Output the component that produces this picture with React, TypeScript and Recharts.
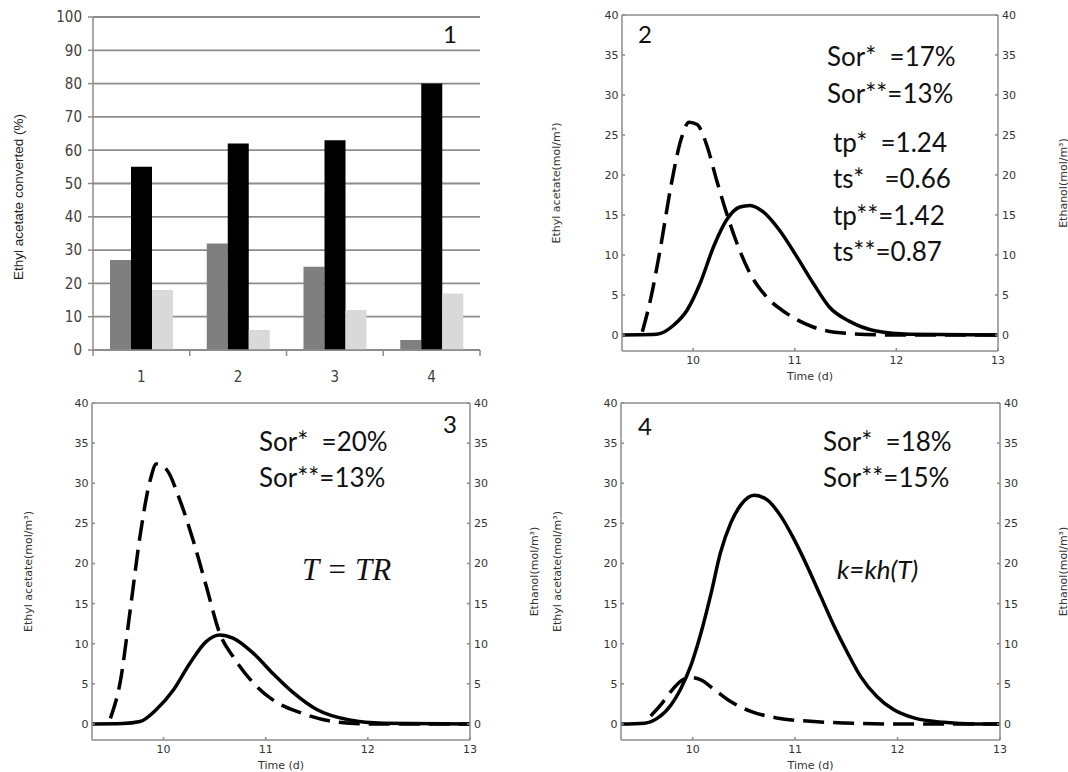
import { Bar, BarChart, CartesianGrid, Line, LineChart, XAxis, YAxis } from "recharts";

// panel 1 – conversion bars
const barCategories = ["1", "2", "3", "4"];
const grayBarValues = [27, 32, 25, 3];
const blackBarValues = [55, 62, 63, 80];
const lightBarValues = [18, 6, 12, 17];
const percentTicks = [0, 10, 20, 30, 40, 50, 60, 70, 80, 90, 100];

// panels 2-4 – concentration curves
const timeTicks = [10, 11, 12, 13];
const concTicks = [0, 5, 10, 15, 20, 25, 30, 35, 40];

const p2DashedTime = [9.5, 9.58, 9.68, 9.78, 9.88, 9.96, 10.04, 10.14, 10.23, 10.33, 10.43, 10.56, 10.72, 10.92, 11.18, 11.51, 11.96, 13];
const p2DashedConc = [0.4, 4.4, 11, 18.5, 24.4, 26.6, 26.3, 23.5, 19.4, 15.2, 11.5, 7.7, 4.8, 2.7, 1, 0.2, 0, 0];
const p2SolidTime = [9.3, 9.6, 9.68, 9.81, 9.94, 10.07, 10.2, 10.33, 10.46, 10.56, 10.69, 10.85, 11.02, 11.18, 11.34, 11.54, 11.8, 12.13, 13];
const p2SolidConc = [0, 0.05, 0.2, 1.25, 3.1, 6.5, 11, 14.4, 16, 16.2, 15.4, 13.1, 9.8, 6.5, 3.5, 1.7, 0.5, 0.1, 0];

const p3DashedTime = [9.48, 9.58, 9.67, 9.77, 9.87, 9.93, 10.03, 10.16, 10.29, 10.42, 10.55, 10.68, 10.88, 11.07, 11.34, 11.66, 11.99, 13];
const p3DashedConc = [0.7, 5.5, 13.8, 23.4, 30.4, 32.4, 31.7, 27.9, 22.9, 17.1, 11.3, 8.4, 5.1, 3, 1.4, 0.3, 0, 0];
const p3SolidTime = [9.3, 9.6, 9.77, 9.93, 10.1, 10.26, 10.42, 10.55, 10.68, 10.88, 11.07, 11.27, 11.5, 11.82, 12.15, 13];
const p3SolidConc = [0, 0.05, 0.3, 1.8, 4.3, 7.6, 10.3, 11.1, 10.7, 8.8, 6.3, 3.9, 1.8, 0.5, 0.1, 0];

const p4DashedTime = [9.59, 9.69, 9.79, 9.88, 9.98, 10.08, 10.21, 10.37, 10.56, 10.82, 11.15, 11.47, 11.96, 13];
const p4DashedConc = [1, 2.4, 4.1, 5.3, 5.8, 5.5, 4.3, 2.8, 1.6, 0.75, 0.33, 0.12, 0, 0];
const p4SolidTime = [9.3, 9.53, 9.66, 9.79, 9.88, 9.98, 10.08, 10.18, 10.27, 10.37, 10.47, 10.6, 10.73, 10.86, 10.99, 11.12, 11.25, 11.38, 11.51, 11.64, 11.8, 11.96, 12.16, 12.45, 12.77, 13];
const p4SolidConc = [0, 0.1, 0.75, 2.4, 4.3, 7.2, 11.3, 16.3, 21.3, 25, 27.3, 28.5, 27.9, 25.9, 23, 19.6, 15.9, 12.2, 8.9, 5.9, 3.4, 1.8, 0.75, 0.2, 0, 0];

const barRows = barCategories.map((name, i) => ({
  name,
  gray: grayBarValues[i],
  black: blackBarValues[i],
  light: lightBarValues[i],
}));

const toPoints = (times: number[], conc: number[]) => times.map((t, i) => ({ t, c: conc[i] }));

const AXIS_GRAY = "#8c8c8c";
const TICK_FONT = "'DejaVu Sans', sans-serif";
const NOTE_FONT = "Lato, 'Open Sans', sans-serif";
const NARROW_FONT = "'Liberation Sans Narrow', 'DejaVu Sans Condensed', 'Liberation Sans', sans-serif";

// bar panel geometry (chart sits at the page origin)
const BAR_LEFT = 93;
const BAR_RIGHT = 480;
const BAR_BOTTOM = 350;
const halfBand = (BAR_RIGHT - BAR_LEFT) / barCategories.length / 2;

function BarCategoryTick(props: any) {
  const { x, y, payload, index } = props;
  return (
    <g>
      <line x1={x - halfBand} x2={x - halfBand} y1={BAR_BOTTOM} y2={BAR_BOTTOM + 6} stroke={AXIS_GRAY} strokeWidth={1.5} />
      {index === barCategories.length - 1 && (
        <line x1={x + halfBand} x2={x + halfBand} y1={BAR_BOTTOM} y2={BAR_BOTTOM + 6} stroke={AXIS_GRAY} strokeWidth={1.5} />
      )}
      <text x={x} y={y} dy="0.71em" textAnchor="middle" fontSize={15} fill="#404040" fontFamily={NARROW_FONT}>
        {payload.value}
      </text>
    </g>
  );
}

function verticalTitle(text: string, x: number, cy: number) {
  return () => (
    <text
      x={x}
      y={cy}
      transform={`rotate(-90 ${x} ${cy})`}
      textAnchor="middle"
      dominantBaseline="central"
      fontSize={11}
      fill="#333"
      fontFamily={TICK_FONT}
    >
      {text}
    </text>
  );
}

type PanelLayout = {
  left: number;
  top: number;
  width: number;
  height: number;
  marginTop: number;
  leftAxisWidth: number;
  rightAxisWidth: number;
  xAxisHeight: number;
  leftTitleX: number;
  rightTitleX: number;
};

function CurvePanel({
  layout,
  dashed,
  solid,
}: {
  layout: PanelLayout;
  dashed: { t: number; c: number }[];
  solid: { t: number; c: number }[];
}) {
  const plotTop = layout.marginTop;
  const plotBottom = layout.height - layout.xAxisHeight;
  const plotLeft = layout.leftAxisWidth;
  const plotRight = layout.width - layout.rightAxisWidth;
  const cy = (plotTop + plotBottom) / 2;
  const tickStyle = { fontSize: 11, fill: "#333", fontFamily: TICK_FONT };
  const xDomain: [number, number] = [9.3, 13];
  const yDomain: [number, number] = [-2, 40];

  return (
    <div style={{ position: "absolute", left: layout.left, top: layout.top }}>
      <LineChart
        width={layout.width}
        height={layout.height}
        margin={{ top: layout.marginTop - 1, right: 0, bottom: 0, left: 0 }}
      >
        <XAxis
          dataKey="t"
          type="number"
          domain={xDomain}
          ticks={timeTicks}
          allowDataOverflow
          height={layout.xAxisHeight}
          stroke={AXIS_GRAY}
          strokeWidth={1.5}
          tickSize={-3}
          tickMargin={8}
          tick={tickStyle}
          label={() => (
            <text
              x={(plotLeft + plotRight) / 2}
              y={plotBottom + 29}
              textAnchor="middle"
              fontSize={11}
              fill="#333"
              fontFamily={TICK_FONT}
            >
              Time (d)
            </text>
          )}
        />
        <XAxis
          xAxisId="top"
          orientation="top"
          dataKey="t"
          type="number"
          domain={xDomain}
          ticks={[10, 11, 12]}
          allowDataOverflow
          height={1}
          stroke={AXIS_GRAY}
          strokeWidth={1.5}
          tickSize={-3}
          tick={false}
        />
        <YAxis
          domain={yDomain}
          ticks={concTicks}
          allowDataOverflow
          width={layout.leftAxisWidth}
          stroke={AXIS_GRAY}
          strokeWidth={1.5}
          tickSize={-3}
          tickMargin={6.5}
          tick={tickStyle}
          label={verticalTitle("Ethyl acetate(mol/m³)", layout.leftTitleX, cy)}
        />
        <YAxis
          yAxisId="right"
          orientation="right"
          domain={yDomain}
          ticks={concTicks}
          allowDataOverflow
          width={layout.rightAxisWidth}
          stroke={AXIS_GRAY}
          strokeWidth={1.5}
          tickSize={-3}
          tickMargin={7}
          tick={tickStyle}
          label={verticalTitle("Ethanol(mol/m³)", layout.rightTitleX, cy)}
        />
        <Line
          data={solid}
          dataKey="c"
          type="monotone"
          stroke="#000"
          strokeWidth={3.5}
          dot={false}
          activeDot={false}
          isAnimationActive={false}
        />
        <Line
          data={dashed}
          dataKey="c"
          type="monotone"
          stroke="#000"
          strokeWidth={3.5}
          strokeDasharray="21 9"
          dot={false}
          activeDot={false}
          isAnimationActive={false}
        />
      </LineChart>
    </div>
  );
}

function Note({
  x,
  cy,
  size = 26,
  italic = false,
  serif = false,
  children,
}: {
  x: number;
  cy: number;
  size?: number;
  italic?: boolean;
  serif?: boolean;
  children: string;
}) {
  return (
    <div
      style={{
        position: "absolute",
        left: x,
        top: cy - size * 0.53,
        fontSize: size,
        lineHeight: 1,
        whiteSpace: "pre",
        color: "#111",
        fontStyle: italic ? "italic" : "normal",
        fontFamily: serif ? "'Liberation Serif', 'DejaVu Serif', serif" : NOTE_FONT,
      }}
    >
      {children}
    </div>
  );
}

const panel2Layout: PanelLayout = {
  left: 520, top: 0, width: 548, height: 390, marginTop: 15,
  leftAxisWidth: 102, rightAxisWidth: 70, xAxisHeight: 39, leftTitleX: 36, rightTitleX: 543,
};
const panel3Layout: PanelLayout = {
  left: 0, top: 380, width: 560, height: 392, marginTop: 23,
  leftAxisWidth: 92, rightAxisWidth: 90, xAxisHeight: 32, leftTitleX: 28, rightTitleX: 534,
};
const panel4Layout: PanelLayout = {
  left: 520, top: 380, width: 548, height: 392, marginTop: 23,
  leftAxisWidth: 101, rightAxisWidth: 68, xAxisHeight: 32, leftTitleX: 37, rightTitleX: 543,
};

export default function App() {
  return (
    <div
      style={{
        position: "absolute",
        left: 0,
        top: 0,
        width: 1068,
        height: 772,
        background: "#fff",
        overflow: "hidden",
      }}
    >
      {/* panel 1 */}
      <div style={{ position: "absolute", left: 0, top: 0 }}>
        <BarChart
          width={500}
          height={390}
          data={barRows}
          margin={{ top: 17, right: 20, bottom: 0, left: 0 }}
          barCategoryGap={17}
          barGap={0}
        >
          <CartesianGrid vertical={false} stroke={AXIS_GRAY} strokeWidth={1.8} />
          <XAxis
            dataKey="name"
            height={40}
            stroke={AXIS_GRAY}
            strokeWidth={1.5}
            tickLine={false}
            tickSize={6}
            tickMargin={15}
            tick={<BarCategoryTick />}
          />
          <YAxis
            domain={[0, 100]}
            ticks={percentTicks}
            width={BAR_LEFT}
            stroke={AXIS_GRAY}
            strokeWidth={1.5}
            tickSize={5}
            tickMargin={6}
            tick={{ fontSize: 15, fill: "#404040", fontFamily: NARROW_FONT }}
            label={() => (
              <text
                x={18}
                y={197}
                transform="rotate(-90 18 197)"
                textAnchor="middle"
                dominantBaseline="central"
                fontSize={13.5}
                fill="#222"
                fontFamily="'Liberation Sans', Arial, sans-serif"
              >
                Ethyl acetate converted (%)
              </text>
            )}
          />
          <Bar dataKey="gray" fill="#7f7f7f" isAnimationActive={false} />
          <Bar dataKey="black" fill="#000000" isAnimationActive={false} />
          <Bar dataKey="light" fill="#d9d9d9" isAnimationActive={false} />
        </BarChart>
      </div>

      <CurvePanel layout={panel2Layout} dashed={toPoints(p2DashedTime, p2DashedConc)} solid={toPoints(p2SolidTime, p2SolidConc)} />
      <CurvePanel layout={panel3Layout} dashed={toPoints(p3DashedTime, p3DashedConc)} solid={toPoints(p3SolidTime, p3SolidConc)} />
      <CurvePanel layout={panel4Layout} dashed={toPoints(p4DashedTime, p4DashedConc)} solid={toPoints(p4SolidTime, p4SolidConc)} />

      <Note x={443} cy={35} size={24}>1</Note>

      <Note x={638} cy={35} size={24}>2</Note>
      <Note x={827} cy={57}>{"Sor*  =17%"}</Note>
      <Note x={827} cy={94}>{"Sor**=13%"}</Note>
      <Note x={833} cy={143}>{"tp*  =1.24"}</Note>
      <Note x={833} cy={179}>{"ts*   =0.66"}</Note>
      <Note x={833} cy={216}>{"tp**=1.42"}</Note>
      <Note x={833} cy={252}>{"ts**=0.87"}</Note>

      <Note x={443} cy={425} size={24}>3</Note>
      <Note x={259} cy={442}>{"Sor*  =20%"}</Note>
      <Note x={259} cy={478}>{"Sor**=13%"}</Note>
      <Note x={302} cy={570} size={31} italic serif>{"T = TR"}</Note>

      <Note x={638} cy={427} size={24}>4</Note>
      <Note x={823} cy={442}>{"Sor*  =18%"}</Note>
      <Note x={823} cy={478}>{"Sor**=15%"}</Note>
      <Note x={837} cy={570} italic>{"k=kh(T)"}</Note>
    </div>
  );
}
